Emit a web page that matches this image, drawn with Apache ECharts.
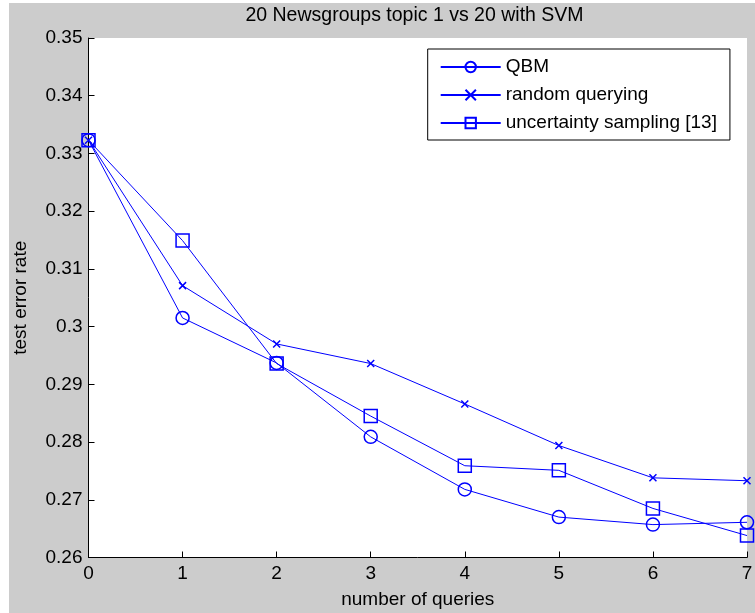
<!DOCTYPE html>
<html>
<head>
<meta charset="utf-8">
<script src="https://cdn.jsdelivr.net/npm/echarts@6/dist/echarts.min.js"></script>
<style>
  html, body { margin: 0; padding: 0; background: #fff; }
  #chart { position: absolute; left: 9px; top: 3px; width: 746px; height: 610px; }
</style>
</head>
<body>
<div id="chart"></div>
<script>
  const queries = [0, 1, 2, 3, 4, 5, 6, 7];
  const qbm = [0.3323, 0.3015, 0.2937, 0.2809, 0.2718, 0.2670, 0.2657, 0.2661];
  const randomQuerying = [0.3323, 0.3071, 0.2970, 0.2936, 0.2866, 0.2794, 0.2738, 0.2733];
  const uncertainty = [0.3323, 0.3149, 0.2936, 0.2845, 0.2759, 0.2751, 0.2685, 0.2638];
  const seriesNames = ['QBM', 'random querying', 'uncertainty sampling [13]'];

  const font = 'Liberation Sans, Arial, sans-serif';
  const blue = '#0000ff';

  function pairs(ys) {
    return queries.map((x, i) => [x, ys[i]]);
  }

  function lineSeries(name, ys, symbol, size) {
    return {
      name: name,
      type: 'line',
      data: pairs(ys),
      symbol: symbol,
      symbolSize: size,
      showAllSymbol: true,
      clip: false,
      lineStyle: { color: blue, width: 1 },
      itemStyle: { color: 'rgba(0,0,0,0)', borderColor: blue, borderWidth: 1.5 },
      emphasis: { disabled: true }
    };
  }

  var chart = echarts.init(document.getElementById('chart'));
  chart.setOption({
    animation: false,
    backgroundColor: '#cccccc',
    title: {
      text: '20 Newsgroups topic 1 vs 20 with SVM',
      left: 405.5,
      textAlign: 'center',
      top: 3,
      padding: 0,
      textStyle: { fontFamily: font, fontSize: 19.5, fontWeight: 'normal', color: '#000' }
    },
    legend: {
      orient: 'vertical',
      left: 418.7,
      top: 46,
      padding: [8, 13, 7, 12],
      itemWidth: 60,
      itemHeight: 13,
      itemGap: 8,
      backgroundColor: '#fff',
      borderColor: '#000',
      borderWidth: 1,
      borderRadius: 0,
      textStyle: { fontFamily: font, fontSize: 19, color: '#000', lineHeight: 20 },
      data: seriesNames
    },
    grid: {
      left: 79.5,
      right: 8,
      top: 35,
      bottom: 55.5,
      outerBoundsMode: 'none',
      containLabel: false,
      show: true,
      backgroundColor: '#fff',
      borderWidth: 0
    },
    xAxis: {
      type: 'value',
      min: 0,
      max: 7,
      interval: 1,
      name: 'number of queries',
      nameLocation: 'middle',
      nameGap: 33,
      nameTextStyle: { fontFamily: font, fontSize: 19, color: '#000' },
      axisLine: { lineStyle: { color: '#000', width: 1 } },
      axisTick: { inside: true, length: 6, lineStyle: { color: '#000' } },
      axisLabel: { fontFamily: font, fontSize: 19, color: '#000', margin: 7 },
      splitLine: { show: false }
    },
    yAxis: {
      type: 'value',
      min: 0.26,
      max: 0.35,
      interval: 0.01,
      name: 'test error rate',
      nameLocation: 'middle',
      nameGap: 58,
      nameTextStyle: { fontFamily: font, fontSize: 19, color: '#000' },
      axisLine: { show: true, lineStyle: { color: '#000', width: 1 } },
      axisTick: { show: true, inside: true, length: 6, lineStyle: { color: '#000' } },
      axisLabel: { fontFamily: font, fontSize: 19, color: '#000', margin: 6 },
      splitLine: { show: false }
    },
    series: [
      lineSeries(seriesNames[0], qbm, 'circle', 13),
      lineSeries(seriesNames[1], randomQuerying, 'path://M0,0L10,10M10,0L0,10', 7),
      lineSeries(seriesNames[2], uncertainty, 'rect', 13)
    ]
  });
</script>
</body>
</html>
